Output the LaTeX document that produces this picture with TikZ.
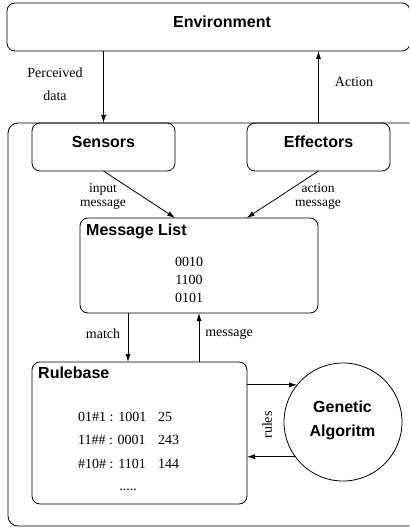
\documentclass[tikz,border=0pt]{standalone}
\usepackage{fontspec}
\setmainfont{Liberation Serif}
\setsansfont{Liberation Sans}
\usetikzlibrary{arrows.meta,calc}
\tikzset{
  box/.style={draw, rounded corners=8pt, line width=0.8pt, inner sep=0pt, outer sep=0pt, anchor=north west},
  ttl/.style={font=\sffamily\bfseries\fontsize{16}{18}\selectfont, inner sep=0pt},
  lbl/.style={font=\fontsize{14}{14}\selectfont, inner sep=0pt},
  lbl2/.style={font=\fontsize{13.5}{14}\selectfont, inner sep=0pt, align=center},
  arr/.style={line width=0.8pt, -{Latex[length=8pt,width=5pt]}},
}
\begin{document}
\begin{tikzpicture}[x=1pt,y=-1pt]
\useasboundingbox (0,0) rectangle (409,529);
\clip (0,0) rectangle (409,529);
% boxes
\node[box, minimum width=403pt, minimum height=48pt] (env) at (7,3) {};
\node[box, rounded corners=10pt, minimum width=410pt, minimum height=403pt] (agent) at (8,123) {};
\node[box, minimum width=143pt, minimum height=48pt] (sens) at (32,123) {};
\node[box, minimum width=143pt, minimum height=48pt] (eff) at (247,123) {};
\node[box, minimum width=238pt, minimum height=95pt] (ml) at (80,218) {};
\node[box, minimum width=215pt, minimum height=142pt] (rb) at (32,362) {};
\node[draw, circle, line width=0.8pt, minimum size=118pt, inner sep=0pt, outer sep=0pt] (ga) at (343,422) {};
% titles
\node[ttl] (envt) at (222,22) {Environment};
\node[ttl] (senst) at (103.5,142) {Sensors};
\node[ttl] (efft) at (318.5,142) {Effectors};
\node[ttl, anchor=west] (mlt) at (86,231) {Message List};
\node[ttl, anchor=west] (rbt) at (38,373) {Rulebase};
\node[ttl] (gat1) at (342.5,407) {Genetic};
\node[ttl] (gat2) at (342.5,432) {Algoritm};
% contents
\node[lbl] (m1) at (189,262) {0010};
\node[lbl] (m2) at (189,280) {1100};
\node[lbl] (m3) at (189,298) {0101};
\node[lbl, anchor=west] (r1) at (78,417) {01\#1 : 1001};
\node[lbl, anchor=west] (r1n) at (158,417) {25};
\node[lbl, anchor=west] (r2) at (78,440) {11\#\# : 0001};
\node[lbl, anchor=west] (r2n) at (158,440) {243};
\node[lbl, anchor=west] (r3) at (78,464) {\#10\# : 1101};
\node[lbl, anchor=west] (r3n) at (158,464) {144};
\node[lbl] (r4) at (128,490) {.....};
% connectors
\draw[arr] (env.south -| sens.north) -- (sens.north);
\draw[arr] (eff.north) -- (env.south -| eff.north);
\coordinate (mlin) at ($(ml.north west)!0.4!(ml.north east)$);
\coordinate (mlac) at ($(ml.north west)!0.7!(ml.north east)$);
\draw[arr] (sens.south) -- (mlin);
\draw[arr] (eff.south) -- (mlac);
\coordinate (matchtop) at ($(ml.south west)+(48,0)$);
\coordinate (msgtop) at ($(ml.south west)+(119,0)$);
\draw[arr] (matchtop) -- (matchtop |- rb.north);
\draw[arr] (msgtop |- rb.north) -- (msgtop);
\draw[arr] (rb.east |- ga.141) -- (ga.141);
\draw[arr] (ga.216) -- (rb.east |- ga.216);
% labels
\node[lbl, align=center, font=\fontsize{14}{23}\selectfont] (lp) at (55,84) {Perceived\\data};
\node[lbl] (la) at (354,82) {Action};
\node[lbl2] (li) at (103,196) {input\\message};
\node[lbl2] (lm) at (318,196) {action\\message};
\node[lbl] (lmatch) at (103,334) {match};
\node[lbl] (lmsg) at (229,334) {message};
\node[lbl, rotate=90] (lrules) at (267,425) {rules};
\end{tikzpicture}
\end{document}
